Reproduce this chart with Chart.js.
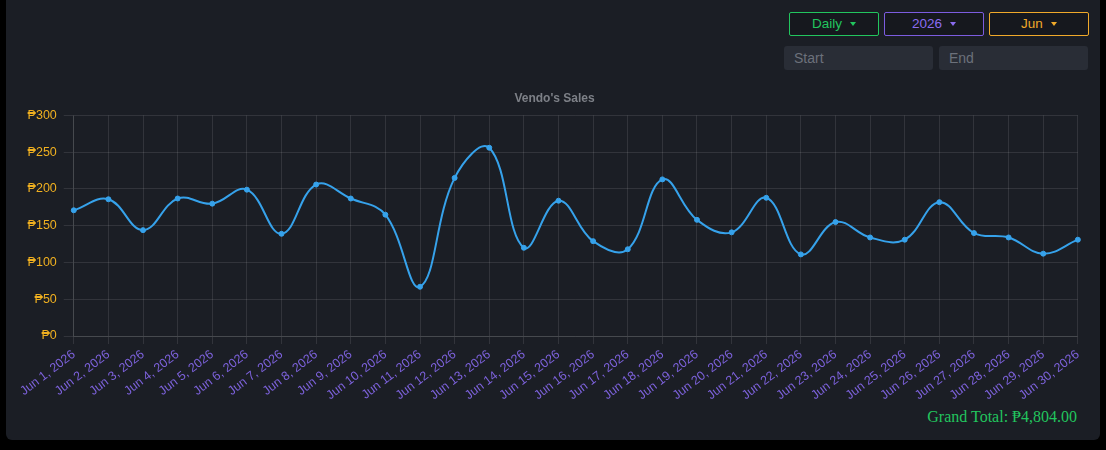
<!DOCTYPE html>
<html>
<head>
<meta charset="utf-8">
<script src="https://cdn.jsdelivr.net/npm/chart.js@4.4.1/dist/chart.umd.min.js"></script>
<style>
  html, body { margin: 0; padding: 0; background: #000; width: 1106px; height: 450px; overflow: hidden; font-family: "Liberation Sans", Arial, sans-serif; }
  .card { position: absolute; left: 6px; top: -6px; width: 1094px; height: 446px; background: #1b1e25; border-radius: 6px; }
  .btn { position: absolute; top: 18px; height: 22px; border: 1px solid; border-radius: 2px; background: #16181e; font-size: 13.5px; text-align: center; line-height: 22px; box-sizing: content-box; }
  .btn .caret { display: inline-block; margin-left: 8px; width: 0; height: 0; border-left: 3.5px solid transparent; border-right: 3.5px solid transparent; border-top: 4px solid currentColor; vertical-align: 2px; }
  .inp { position: absolute; top: 52px; height: 24px; background: #292d36; border-radius: 3px; color: #6c717b; font-size: 14px; line-height: 24px; padding-left: 10px; box-sizing: border-box; }
  #chartBox { position: absolute; left: 13px; top: 97px; width: 1071px; height: 315px; }
  .total { position: absolute; right: 23px; top: 414px; color: #22c55e; font-family: "Liberation Serif", "Times New Roman", serif; font-size: 16px; }
</style>
</head>
<body>
<div class="card">
  <div class="btn" style="left:783px;width:88px;border-color:#22c55e;color:#22c55e;">Daily<span class="caret"></span></div>
  <div class="btn" style="left:878px;width:98px;border-color:#7c5ce0;color:#8b6cf0;">2026<span class="caret"></span></div>
  <div class="btn" style="left:983px;width:98px;border-color:#f0a92a;color:#f0a92a;">Jun<span class="caret"></span></div>
  <div class="inp" style="left:778px;width:149px;">Start</div>
  <div class="inp" style="left:933px;width:149px;">End</div>
  <div id="chartBox"><canvas id="graph"></canvas></div>
  <div class="total">Grand Total: ₱4,804.00</div>
</div>
<script>
const day_labels = ['Jun 1, 2026', 'Jun 2, 2026', 'Jun 3, 2026', 'Jun 4, 2026', 'Jun 5, 2026', 'Jun 6, 2026',
  'Jun 7, 2026', 'Jun 8, 2026', 'Jun 9, 2026', 'Jun 10, 2026', 'Jun 11, 2026', 'Jun 12, 2026',
  'Jun 13, 2026', 'Jun 14, 2026', 'Jun 15, 2026', 'Jun 16, 2026', 'Jun 17, 2026', 'Jun 18, 2026',
  'Jun 19, 2026', 'Jun 20, 2026', 'Jun 21, 2026', 'Jun 22, 2026', 'Jun 23, 2026', 'Jun 24, 2026',
  'Jun 25, 2026', 'Jun 26, 2026', 'Jun 27, 2026', 'Jun 28, 2026', 'Jun 29, 2026', 'Jun 30, 2026'];
const daily_sales = [171, 186, 144, 187, 180, 199, 139, 206, 187, 165, 67, 215, 256, 120, 184,
  129, 118, 213, 158, 141, 188, 111, 155, 134, 131, 182, 140, 134, 112, 131];
const y_max = 300;
const y_step = 50;

const ctx = document.getElementById('graph').getContext('2d');
const chart = new Chart(ctx, {
  type: 'line',
  data: {
    labels: day_labels,
    datasets: [
      { label: 'Sales', data: daily_sales, borderColor: '#36a2eb', backgroundColor: '#36a2eb',
        borderWidth: 2, pointRadius: 2.5, pointBorderWidth: 1, tension: 0.4, fill: false }
    ]
  },
  options: {
    responsive: true,
    maintainAspectRatio: false,
    animation: false,
    plugins: {
      legend: { display: false },
      title: { display: true, text: "Vendo's Sales", color: '#7d8087',
        font: { family: 'Liberation Sans', size: 12, weight: 'bold' }, padding: { top: 0, bottom: 10 } }
    },
    scales: {
      x: {
        grid: { color: 'rgba(255,255,255,0.1)' },
        border: { color: 'rgba(255,255,255,0.1)' },
        ticks: { color: '#7d62dc', autoSkip: false,
          font: { family: 'Liberation Sans', size: 12.5 } }
      },
      y: {
        min: 0, max: y_max,
        grid: { color: 'rgba(255,255,255,0.1)', tickLength: 10 },
        border: { color: 'rgba(255,255,255,0.1)' },
        ticks: { stepSize: y_step, color: '#f0b020', padding: 7,
          font: { family: 'Liberation Sans', size: 12.5 },
          callback: v => '₱' + v }
      }
    }
  }
});
</script>
</body>
</html>
